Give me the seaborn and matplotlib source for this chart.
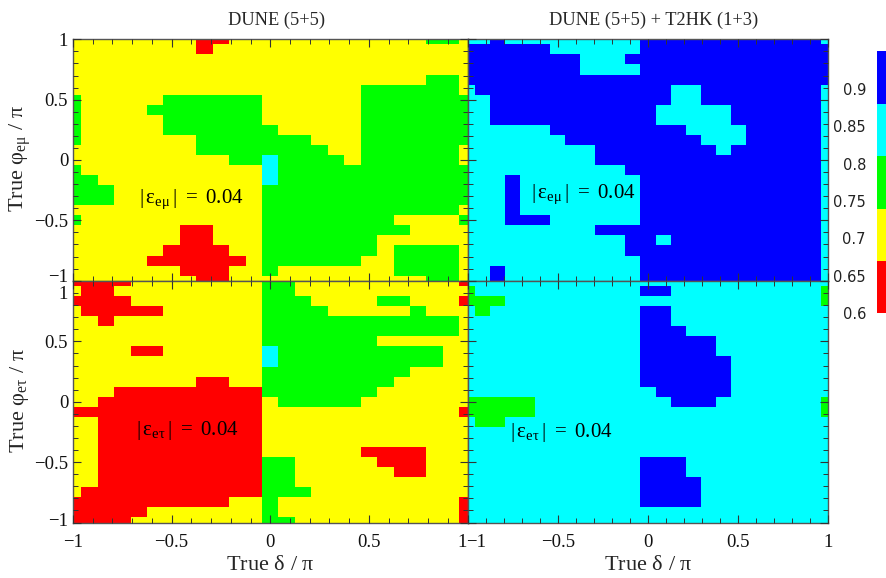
import numpy as np
import matplotlib
matplotlib.use("Agg")
import matplotlib.pyplot as plt
from matplotlib.colors import BoundaryNorm, ListedColormap
from matplotlib.cm import ScalarMappable
from matplotlib.ticker import FixedLocator
from matplotlib.transforms import ScaledTranslation
import seaborn as sns

# CP coverage fractions, binned, one letter per grid point (phi = 1 on top)
BINS = [0.60, 0.67, 0.74, 0.81, 0.88, 0.95]
COLORS = ["#ff0000", "#ffff00", "#00ff00", "#00ffff", "#0000ff"]
LEVELS = {"R": 0.635, "Y": 0.705, "G": 0.775, "C": 0.845, "B": 0.915}

dune_emu = [
    "YYYYYYYYRRYYYYYYYYYYYYGGY",
    "YYYYYYYYRYYYYYYYYYYYYYYYY",
    "YYYYYYYYYYYYYYYYYYYYYYYYY",
    "YYYYYYYYYYYYYYYYYYYYYYYYY",
    "YYYYYYYYYYYYYYYYYYYYYYGGY",
    "YYYYYYYYYYYYYYYYYYGGGGGGY",
    "GYYYYYGGGGGGYYYYYYGGGGGGG",
    "GYYYYGGGGGGGYYYYYYGGGGGGG",
    "GYYYYYGGGGGGYYYYYYGGGGGGG",
    "GYYYYYGGGGGGGYYYYYGGGGGGG",
    "GYYYYYYYGGGGGGGYYYGGGGGGG",
    "YYYYYYYYGGGGGGGGYYGGGGGGY",
    "YYYYYYYYYYGGCGGGGYGGGGGGY",
    "GYYYYYYYYYYYCGGGGGGGGGGGG",
    "GGYYYYYYYYYYCGGGGGGGGGGGG",
    "GGGYYYYYYYYYGGGGGGGGGGGGG",
    "GGGYYYYYYYYYGGGGGGGGGGGGG",
    "YYYYYYYYYYYYGGGGGGGGGGGGY",
    "GYYYYYYYYYYYGGGGGGGGYYYYG",
    "YYYYYYYRRYYYGGGGGGGGGYYYY",
    "YYYYYYYRRYYYGGGGGGGYYYYYY",
    "YYYYYYRRRRYYGGGGGGGYGGGGY",
    "YYYYYRRRRRRYGGGGGGYYGGGGY",
    "YYYYYYYRRRYYGYYYYYYYGGGGY",
    "YYYYYYYYRRYYYYYYYYYYYYGGY",
]
both_emu = [
    "CCBCCCCCCCCCBBBBBBBBBBBBC",
    "BBBBBBCCCCCCBBBBBBBBBBBBB",
    "BBBBBBBBCCCBBBBBBBBBBBBBB",
    "BBBBBBBBCCCCBBBBBBBBBBBBB",
    "BBBBBBBBBBBBBBBBBBBBBBBBB",
    "CBBBBBBBBBBBBBCCBBBBBBBBC",
    "CCBBBBBBBBBBBBCCBBBBBBBBC",
    "CCBBBBBBBBBBBCCCCCBBBBBBC",
    "CCBBBBBBBBBBBCCCCCBBBBBBC",
    "CCCCCCBBBBBBBBBCCCCBBBBBC",
    "CCCCCCCBBBBBBBBBCCCBBBBBC",
    "CCCCCCCCCBBBBBBBBCBBBBBBC",
    "CCCCCCCCCBBBBBBBBBBBBBBBC",
    "CCCCCCCCCCCBBBBBBBBBBBBBC",
    "CCCBCCCCCCCCBBBBBBBBBBBBC",
    "CCCBCCCCCCCCBBBBBBBBBBBBC",
    "CCCBCCCCCCCCBBBBBBBBBBBBC",
    "CCCBCCCCCCCCBBBBBBBBBBBBC",
    "CCCBBBCCCCCCBBBBBBBBBBBBC",
    "CCCCCCCCCBBBBBBBBBBBBBBBC",
    "CCCCCCCCCCCBBCBBBBBBBBBBC",
    "CCCCCCCCCCCBBBBBBBBBBBBBC",
    "CCCCCCCCCCCCBBBBBBBBBBBBC",
    "CCBCCCCCCCCCBBBBBBBBBBBBC",
    "CCBCCCCCCCCCBBBBBBBBBBBBC",
]
dune_etau = [
    "RRRRYYYYYYYYGGYYYYYYYYYYR",
    "YRRYYYYYYYYYGGYYYYYYYYYYY",
    "RRRRYYYYYYYYGGGYYYYGGYYYR",
    "YRRRRRYYYYYYGGGGYYYYYGYYY",
    "YYRYYYYYYYYYGGGGGGGGGGGGY",
    "YYYYYYYYYYYYGGGGGGGGGGGGY",
    "YYYYYYYYYYYYGGGGGGGYYYYYY",
    "YYYYRRYYYYYYCGGGGGGGGGGYY",
    "YYYYYYYYYYYYCGGGGGGGGGGYY",
    "YYYYYYYYYYYYGGGGGGGGGYYYY",
    "YYYYYYYYRRYYGGGGGGGGYYYYY",
    "YYYRRRRRRRRRGGGGGGGYYYYYY",
    "YYRRRRRRRRRRYGGGGGYYYYYYY",
    "RRRRRRRRRRRRYYYYYYYYYYYYR",
    "YYRRRRRRRRRRYYYYYYYYYYYYY",
    "YYRRRRRRRRRRYYYYYYYYYYYYY",
    "YYRRRRRRRRRRYYYYYYYYYYYYY",
    "YYRRRRRRRRRRYYYYYYRRRRYYY",
    "YYRRRRRRRRRRGGYYYYYRRRYYY",
    "YYRRRRRRRRRRGGYYYYYYRRYYY",
    "YYRRRRRRRRRRGGYYYYYYYYYYY",
    "YRRRRRRRRRRRGGGYYYYYYYYYY",
    "RRRRRRRRRRYYGYYYYYYYYYYYR",
    "RRRRRYYYYYYYGYYYYYYYYYYYR",
    "RRRRYYYYYYYYGGYYYYYYYYYYR",
]
both_etau = [
    "CCCCCCCCCCCCCCCCCCCCCCCCC",
    "GCCCCCCCCCCCBBCCCCCCCCCCG",
    "GGGCCCCCCCCCCCCCCCCCCCCCG",
    "CGCCCCCCCCCCBBCCCCCCCCCCC",
    "CCCCCCCCCCCCBBCCCCCCCCCCC",
    "CCCCCCCCCCCCBBBCCCCCCCCCC",
    "CCCCCCCCCCCCBBBBBCCCCCCCC",
    "CCCCCCCCCCCCBBBBBCCCCCCCC",
    "CCCCCCCCCCCCBBBBBBCCCCCCC",
    "CCCCCCCCCCCCBBBBBBCCCCCCC",
    "CCCCCCCCCCCCBBBBBBCCCCCCC",
    "CCCCCCCCCCCCCBBBBBCCCCCCC",
    "GGGGGCCCCCCCCCBBBCCCCCCCG",
    "GGGGGCCCCCCCCCCCCCCCCCCCG",
    "CGGCCCCCCCCCCCCCCCCCCCCCC",
    "CCCCCCCCCCCCCCCCCCCCCCCCC",
    "CCCCCCCCCCCCCCCCCCCCCCCCC",
    "CCCCCCCCCCCCCCCCCCCCCCCCC",
    "CCCCCCCCCCCCBBBCCCCCCCCCC",
    "CCCCCCCCCCCCBBBCCCCCCCCCC",
    "CCCCCCCCCCCCBBBBCCCCCCCCC",
    "CCCCCCCCCCCCBBBBCCCCCCCCC",
    "CCCCCCCCCCCCBBBBCCCCCCCCC",
    "CCCCCCCCCCCCCCCCCCCCCCCCC",
    "CCCCCCCCCCCCCCCCCCCCCCCCC",
]

titles = ["DUNE (5+5)", "DUNE (5+5) + T2HK (1+3)"]
major_ticks = [-1, -0.5, 0, 0.5, 1]
major_labels = ["\u22121", "\u22120.5", "0", "0.5", "1"]
minor_ticks = np.arange(-10, 11) / 10
cbar_ticks = [0.6, 0.65, 0.7, 0.75, 0.8, 0.85, 0.9]
cbar_labels = ["0.6", "0.65", "0.7", "0.75", "0.8", "0.85", "0.9"]

sns.set_theme(style="ticks")
plt.rcParams.update({
    "font.family": "Liberation Serif",
    "mathtext.fontset": "custom",
    "mathtext.rm": "Liberation Serif",
    "mathtext.it": "Liberation Serif",
    "mathtext.fallback": "stix",
    "axes.edgecolor": "#555555",
    "axes.linewidth": 1.0,
})

W, H = 886, 578
fig = plt.figure(figsize=(W / 100, H / 100), dpi=100)
cmap = ListedColormap(COLORS)
norm = BoundaryNorm(BINS, cmap.N)


def add_panel(x0, x1, y0, y1):
    # pixel box, y counted from the top of the image
    return fig.add_axes([x0 / W, 1 - y1 / H, (x1 - x0) / W, (y1 - y0) / H])


def xpos(v):
    return (np.asarray(v) + 1) * 12 + 0.5


def ypos(v):
    return (1 - np.asarray(v)) * 12 + 0.5


def draw_panel(ax, rows, xlabels, ylabels):
    values = np.array([[LEVELS[c] for c in row] for row in rows])
    sns.heatmap(values, ax=ax, cmap=cmap, norm=norm, cbar=False,
                xticklabels=False, yticklabels=False)
    # grid points sit on the axis ends, so the outer cells show only by half
    ax.set_xlim(0.5, 24.5)
    ax.set_ylim(24.5, 0.5)
    ax.set_axisbelow(False)
    ax.set_xticks(xpos(major_ticks))
    ax.set_yticks(ypos(major_ticks))
    ax.xaxis.set_minor_locator(FixedLocator(xpos(minor_ticks)))
    ax.yaxis.set_minor_locator(FixedLocator(ypos(minor_ticks)))
    ax.set_xticklabels(major_labels if xlabels else [])
    ax.set_yticklabels(major_labels if ylabels else [])
    ax.tick_params(which="major", direction="in", length=6, width=0.8, color="#333333",
                   top=True, right=True, bottom=True, left=True, labelsize=13.5,
                   labelcolor="#111111")
    ax.tick_params(axis="x", which="major", pad=8)
    ax.tick_params(axis="y", which="major", pad=3.5)
    ax.tick_params(which="minor", direction="in", length=3.5, width=0.7, color="#333333",
                   top=True, right=True, bottom=True, left=True)
    for s in ax.spines.values():
        s.set_visible(True)
    ax.set_xlabel("")
    ax.set_ylabel("")


def shift_label(label, dx, dy):
    # points, the end labels of touching panels are pushed apart
    label.set_transform(label.get_transform() + ScaledTranslation(dx / 72, dy / 72, fig.dpi_scale_trans))


ax_tl = add_panel(73, 467.5, 39.3, 280.7)
ax_tr = add_panel(467.5, 828.5, 39.3, 280.7)
ax_bl = add_panel(73, 467.5, 281, 522.5)
ax_br = add_panel(467.5, 828.5, 281, 522.5)

draw_panel(ax_tl, dune_emu, False, True)
draw_panel(ax_tr, both_emu, False, False)
draw_panel(ax_bl, dune_etau, True, True)
draw_panel(ax_br, both_etau, True, False)

shift_label(ax_tl.get_yticklabels()[0], 0, 4)
shift_label(ax_bl.get_yticklabels()[-1], 0, -8)
shift_label(ax_bl.get_yticklabels()[0], 0, 2)
shift_label(ax_bl.get_xticklabels()[-1], -4, 0)
shift_label(ax_br.get_xticklabels()[0], 6, 0)

fig.text(276 / W, 1 - 20 / H, titles[0], fontsize=13.2, ha="center", va="center")
fig.text(654 / W, 1 - 20 / H, titles[1], fontsize=13.2, ha="center", va="center")

xlabel = r"$\mathrm{True}\ \delta\ /\ \pi$"
fig.text(270 / W, 1 - 566 / H, xlabel, fontsize=16, ha="center", va="center")
fig.text(648 / W, 1 - 566 / H, xlabel, fontsize=16, ha="center", va="center")
fig.text(20 / W, 1 - 159 / H, r"$\mathrm{True}\ \varphi_{\mathrm{e\mu}}\ /\ \pi$",
         fontsize=16, rotation=90, ha="center", va="center")
fig.text(20 / W, 1 - 401 / H, r"$\mathrm{True}\ \varphi_{\mathrm{e\tau}}\ /\ \pi$",
         fontsize=16, rotation=90, ha="center", va="center")

emu = r"$|\,\varepsilon_{\mathrm{e\mu}}\,|\ =\ \mathrm{0.04}$"
etau = r"$|\,\varepsilon_{\mathrm{e\tau}}\,|\ =\ \mathrm{0.04}$"
for x, y, s in [(191, 199, emu), (583, 194, emu), (187, 430, etau), (561, 433, etau)]:
    fig.text(x / W, 1 - y / H, s, fontsize=15, ha="center", va="center", color="black")

cax = add_panel(877, 886, 51.3, 313.3)
cbar = fig.colorbar(ScalarMappable(norm=norm, cmap=cmap), cax=cax, spacing="proportional", drawedges=False)
cbar.outline.set_visible(False)
cax.yaxis.set_ticks_position("left")
cbar.set_ticks(cbar_ticks, labels=cbar_labels)
cax.minorticks_off()
cax.tick_params(length=0, pad=8, labelsize=10.5, labelcolor="#222222", labelfontfamily="DejaVu Sans")

plt.savefig("out.png", dpi=100)
